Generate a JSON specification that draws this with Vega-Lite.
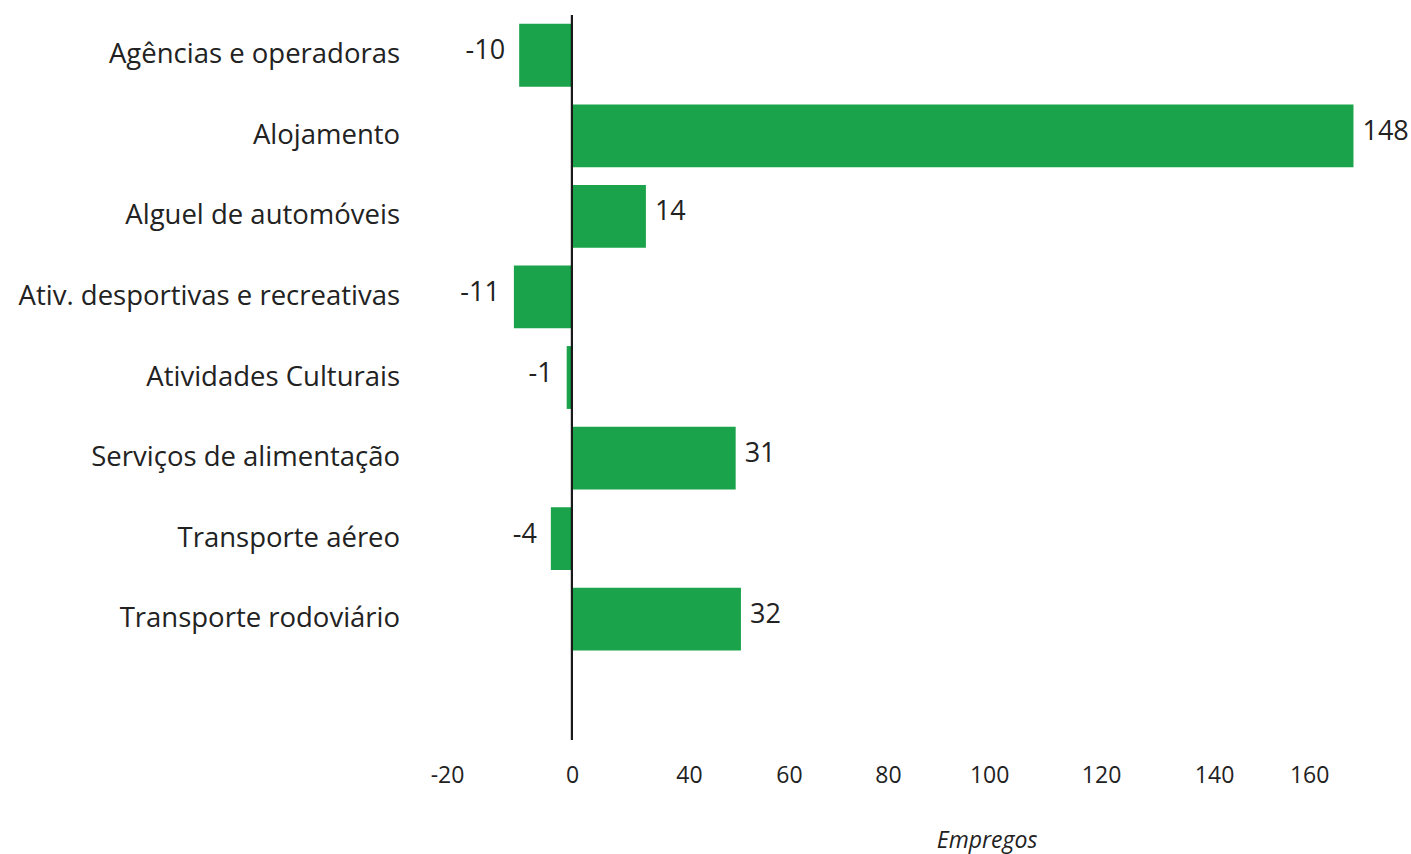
{
  "$schema": "https://vega.github.io/schema/vega-lite/v6.json",
  "autosize": {"type": "none"},
  "width": 970,
  "height": 725,
  "padding": {"left": 423.6, "top": 15, "right": 17.4, "bottom": 114},
  "background": "white",
  "config": {
    "view": {"stroke": null},
    "font": "Open Sans"
  },
  "data": {
    "values": [
      {"setor": "Agências e operadoras", "v": -10},
      {"setor": "Alojamento", "v": 148},
      {"setor": "Alguel de automóveis", "v": 14},
      {"setor": "Ativ. desportivas e recreativas", "v": -11},
      {"setor": "Atividades Culturais", "v": -1},
      {"setor": "Serviços de alimentação", "v": 31},
      {"setor": "Transporte aéreo", "v": -4},
      {"setor": "Transporte rodoviário", "v": 32}
    ]
  },
  "layer": [
    {
      "mark": {"type": "bar", "color": "#1aa34a"},
      "encoding": {
        "y": {
          "field": "setor",
          "type": "nominal",
          "scale": {
            "domain": ["Agências e operadoras", "Alojamento", "Alguel de automóveis", "Ativ. desportivas e recreativas", "Atividades Culturais", "Serviços de alimentação", "Transporte aéreo", "Transporte rodoviário", " "],
            "paddingInner": 0.22,
            "paddingOuter": 0.11
          },
          "axis": {
            "title": null,
            "domain": false,
            "ticks": false,
            "labelPadding": 24,
            "labelFont": "Open Sans",
            "labelFontSize": 27.5,
            "labelColor": "#222222",
            "labelOffset": 0,
            "labelLimit": 600
          }
        },
        "x": {
          "field": "v",
          "type": "quantitative",
          "scale": {"domain": [-28.1, 155.6], "nice": false, "zero": false},
          "axis": {
            "title": "Empregos",
            "titleFont": "Open Sans",
            "titleFontSize": 23,
            "titleFontStyle": "italic",
            "titleFontWeight": "normal",
            "titleColor": "#222222",
            "titleX": 563,
            "titleY": 107,
            "titleBaseline": "alphabetic",
            "titleAnchor": "middle",
            "domain": false,
            "ticks": false,
            "grid": false,
            "values": [-23.67, 0, 22.16, 41.1, 59.85, 79.0, 100.2, 121.6, 139.6],
            "labelExpr": "['-20','0','40','60','80','100','120','140','160'][indexof([-23.67,0,22.16,41.1,59.85,79.0,100.2,121.6,139.6], datum.value)]",
            "labelFont": "Open Sans",
            "labelFontSize": 23,
            "labelColor": "#222222",
            "labelPadding": 24,
            "labelOverlap": false,
            "labelFlush": false
          }
        }
      }
    },
    {
      "mark": {"type": "rule", "color": "#1a1a1a", "strokeWidth": 2},
      "encoding": {"x": {"datum": 0, "type": "quantitative"}}
    },
    {
      "transform": [{"filter": "datum.v >= 0"}],
      "mark": {"type": "text", "align": "left", "baseline": "middle", "dx": 9, "dy": -4, "fontSize": 27, "font": "Open Sans", "color": "#222222"},
      "encoding": {
        "y": {"field": "setor", "type": "nominal"},
        "x": {"field": "v", "type": "quantitative"},
        "text": {"field": "v", "type": "nominal"}
      }
    },
    {
      "transform": [{"filter": "datum.v < 0"}],
      "mark": {"type": "text", "align": "right", "baseline": "middle", "dx": -14, "dy": -4, "fontSize": 27, "font": "Open Sans", "color": "#222222"},
      "encoding": {
        "y": {"field": "setor", "type": "nominal"},
        "x": {"field": "v", "type": "quantitative"},
        "text": {"field": "v", "type": "nominal"}
      }
    }
  ]
}
